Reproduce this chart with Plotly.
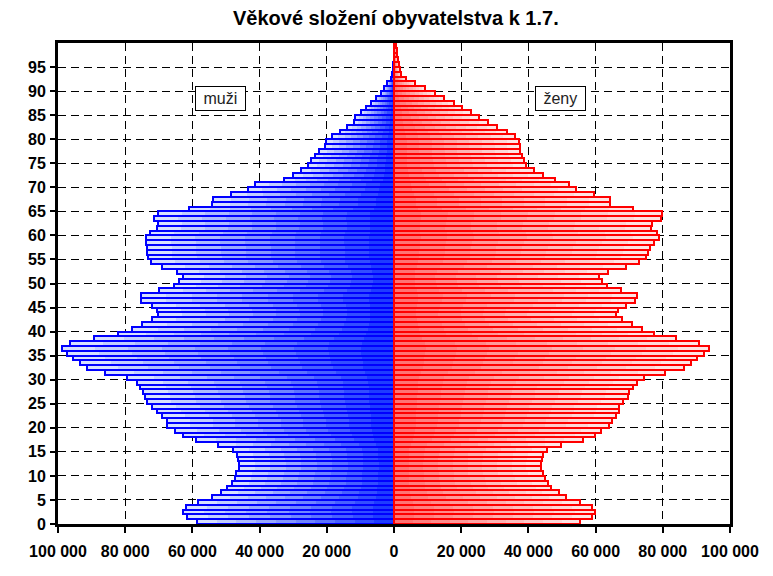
import plotly.graph_objects as go

ages = list(range(100))

male = [58600, 61600, 62800, 61800, 58400, 54300, 51600, 49600, 48100, 47400,
        46900, 46100, 46100, 46300, 46600, 48000, 52300, 58800, 62900, 65200,
        67500, 67500, 69000, 70500, 72100, 73600, 74000, 74700, 75500, 76500,
        79500, 85900, 91400, 93500, 95500, 97400, 98800, 96300, 89400, 82000,
        78000, 75000, 72000, 70100, 70400, 72000, 75300, 75300, 69800, 65500,
        63900, 62800, 64600, 69000, 72300, 73300, 73500, 73500, 73800, 73900,
        72700, 70500, 70200, 71300, 70200, 61000, 54300, 53800, 48600, 43600,
        41500, 32700, 30100, 27600, 25500, 24800, 23500, 22300, 20500, 20300,
        18400, 16100, 13900, 11900, 11700, 9900, 8400, 6900, 5500, 4000,
        3000, 2000, 1000, 500, 300, 200, 150, 100, 60, 40]

female = [55400, 58900, 59700, 58900, 55400, 51300, 49000, 46800, 45700, 45000,
          44300, 43800, 43800, 44100, 44300, 45500, 49800, 56100, 59900, 61700,
          64100, 64800, 66100, 66900, 67000, 68300, 69700, 70000, 71000, 72400,
          74400, 80700, 86300, 88400, 90100, 92300, 93800, 90800, 83800, 77400,
          73800, 70800, 67900, 66200, 66800, 68900, 71600, 72200, 67700, 63500,
          62000, 61100, 63800, 69100, 72900, 75000, 75600, 76200, 77400, 78900,
          78400, 76400, 76800, 79400, 79700, 71000, 64400, 64400, 59400, 54300,
          52000, 47800, 44300, 41800, 39400, 38600, 38100, 37600, 37400, 37300,
          35900, 33700, 30700, 28000, 25200, 22800, 20300, 17800, 15000, 12200,
          9200, 6200, 3500, 2200, 1700, 1500, 1200, 1000, 800, 500]

x_tickvals = [-100000, -80000, -60000, -40000, -20000, 0, 20000, 40000, 60000, 80000, 100000]
x_ticktext = ["100 000", "80 000", "60 000", "40 000", "20 000", "0",
              "20 000", "40 000", "60 000", "80 000", "100 000"]
y_tickvals = list(range(0, 100, 5))
y_ticktext = [str(v) for v in y_tickvals]

title = "Věkové složení obyvatelstva k 1.7."
label_m = "muži"
label_f = "ženy"

ycent = [a + 0.5 for a in ages]

def lerp(c1, c2, t):
    return "rgb(%d,%d,%d)" % tuple(round(a + (b - a) * t) for a, b in zip(c1, c2))

fig = go.Figure()
N = 10
m_light, m_dark = (215, 224, 255), (30, 60, 255)
f_light, f_dark = (255, 228, 228), (255, 115, 115)
for k in range(N):
    t = k / (N - 1)
    s = 1 - k / N
    fig.add_trace(go.Bar(y=ycent, x=[-v * s for v in male], orientation="h", width=1,
                         marker=dict(color=lerp(m_light, m_dark, t), line=dict(width=0)),
                         showlegend=False, hoverinfo="skip"))
    fig.add_trace(go.Bar(y=ycent, x=[v * s for v in female], orientation="h", width=1,
                         marker=dict(color=lerp(f_light, f_dark, t), line=dict(width=0)),
                         showlegend=False, hoverinfo="skip"))

fig.add_trace(go.Bar(y=ycent, x=[-v for v in male], orientation="h", width=1, name="muži",
                     marker=dict(color="rgba(0,0,0,0)", line=dict(color="#0000FF", width=2)),
                     showlegend=False))
fig.add_trace(go.Bar(y=ycent, x=female, orientation="h", width=1, name="ženy",
                     marker=dict(color="rgba(0,0,0,0)", line=dict(color="#FF0000", width=2)),
                     showlegend=False))

font_fam = "Liberation Sans Narrow, Arial Narrow, Liberation Sans, Arial, sans-serif"

fig.update_layout(
    width=765, height=568,
    margin=dict(l=50, r=43, t=35, b=52, autoexpand=False),
    paper_bgcolor="white", plot_bgcolor="white",
    barmode="overlay", bargap=0,
    title=dict(text="<b>" + title + "</b>", x=0.507, xanchor="center", y=0.982, yanchor="middle",
               font=dict(family="Liberation Sans, Arial, sans-serif", size=20, color="black")),
    font=dict(family=font_fam, color="black"),
    annotations=[
        dict(x=-51500, y=88.4, xref="x", yref="y", text="&nbsp;" + label_m + "&nbsp;", showarrow=False,
             font=dict(family="Liberation Sans, Arial, sans-serif", size=16, color="#222"),
             bgcolor="white", bordercolor="black", borderwidth=1, borderpad=3),
        dict(x=49700, y=88.4, xref="x", yref="y", text="&nbsp;" + label_f + "&nbsp;", showarrow=False,
             font=dict(family="Liberation Sans, Arial, sans-serif", size=16, color="#222"),
             bgcolor="white", bordercolor="black", borderwidth=1, borderpad=3),
    ],
)
fig.update_xaxes(range=[-100000, 100000], tickvals=x_tickvals, ticktext=x_ticktext,
                 tickfont=dict(size=16, family=font_fam, weight="bold"),
                 showgrid=True, gridcolor="black", griddash="8px,5px", gridwidth=1,
                 zeroline=False, showline=True, linecolor="black", linewidth=3, mirror=True,
                 ticks="outside", ticklen=6, tickwidth=2, tickcolor="black",
                 ticklabelstandoff=5, automargin=False)
fig.update_yaxes(range=[0, 100], tickvals=y_tickvals, ticktext=y_ticktext,
                 tickfont=dict(size=16, family=font_fam, weight="bold"),
                 showgrid=True, gridcolor="black", griddash="8px,5px", gridwidth=1,
                 zeroline=False, showline=True, linecolor="black", linewidth=3, mirror=True,
                 ticks="outside", ticklen=5, tickwidth=2, tickcolor="black",
                 ticklabelstandoff=1, automargin=False)

fig.write_html("out.html")
